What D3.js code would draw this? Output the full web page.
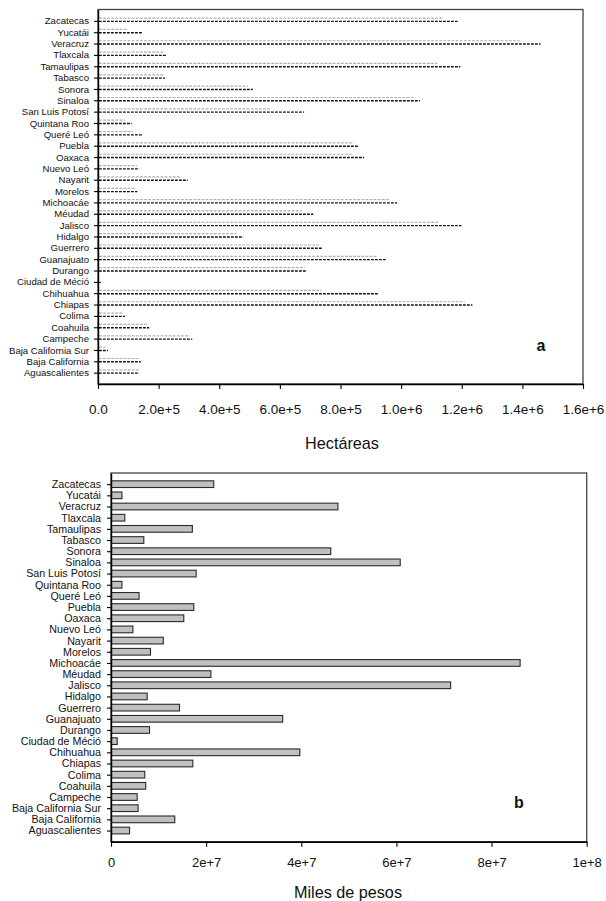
<!DOCTYPE html>
<html>
<head>
<meta charset="utf-8">
<script src="https://cdn.jsdelivr.net/npm/d3@7"></script>
<style>
  html, body { margin: 0; padding: 0; background: #fff; }
  svg { display: block; }
  text { font-family: "Liberation Sans", Arial, sans-serif; fill: #111; }
</style>
</head>
<body>
<svg id="chart" width="606" height="901"></svg>
<script>
// ---------- DATA ----------
const categories = [
  "Zacatecas","Yucatái","Veracruz","Tlaxcala","Tamaulipas","Tabasco","Sonora","Sinaloa",
  "San Luis Potosí","Quintana Roo","Queré Leó","Puebla","Oaxaca","Nuevo Leó","Nayarit","Morelos",
  "Michoacáe","Méudad","Jalisco","Hidalgo","Guerrero","Guanajuato","Durango","Ciudad de Méció",
  "Chihuahua","Chiapas","Colima","Coahuila","Campeche","Baja California Sur","Baja California","Aguascalientes"
];

// Panel a (Hectáreas): light gray dashed series
const hectareasGray = [
  1136000, 98000, 1391000, 218000, 1119000, 215000, 495000, 1040000,
  567000, 89000, 116000, 844000, 840000, 128000, 270000, 125000,
  960000, 672000, 1122000, 457000, 732000, 919000, 682000, 5000,
  737000, 1210000, 83000, 162000, 303000, 24000, 138000, 135000
];
// Panel a (Hectáreas): black dashed series
const hectareasBlack = [
  1186000, 146000, 1460000, 224000, 1195000, 221000, 511000, 1062000,
  680000, 111000, 147000, 860000, 878000, 136000, 296000, 130000,
  987000, 710000, 1199000, 479000, 741000, 949000, 686000, 9000,
  924000, 1235000, 89000, 169000, 311000, 33000, 141000, 136000
];
// Panel b (Miles de pesos)
const milesPesos = [
  21.6e6, 2.3e6, 47.7e6, 2.9e6, 17.1e6, 6.9e6, 46.2e6, 60.8e6,
  17.9e6, 2.3e6, 5.9e6, 17.4e6, 15.3e6, 4.6e6, 11.0e6, 8.3e6,
  86.0e6, 21.0e6, 71.4e6, 7.6e6, 14.4e6, 36.1e6, 8.1e6, 1.3e6,
  39.7e6, 17.2e6, 7.1e6, 7.3e6, 5.5e6, 5.7e6, 13.4e6, 3.9e6
];

const ticksA = [0, 2e5, 4e5, 6e5, 8e5, 1e6, 1.2e6, 1.4e6, 1.6e6];
const tickLabelsA = ["0.0","2.0e+5","4.0e+5","6.0e+5","8.0e+5","1.0e+6","1.2e+6","1.4e+6","1.6e+6"];
const ticksB = [0, 2e7, 4e7, 6e7, 8e7, 1e8];
const tickLabelsB = ["0","2e+7","4e+7","6e+7","8e+7","1e+8"];

// ---------- DRAW ----------
const svg = d3.select("#chart");

// ===== Panel a =====
(function(){
  const L = 98, R = 583, T = 9.5, B = 384;
  const x = d3.scaleLinear().domain([0, 1.6e6]).range([L, R]);
  const y = d3.scalePoint().domain(categories).range([T, B]).padding(1);
  const g = svg.append("g");

  g.append("rect").attr("x", L).attr("y", T).attr("width", R - L).attr("height", B - T)
    .attr("fill", "none").attr("stroke", "#444").attr("stroke-width", 1.3);

  // gray dashed lines (slightly above)
  g.selectAll("line.gray").data(categories).join("line")
    .attr("class", "gray")
    .attr("x1", x(0) + 1).attr("x2", (d, i) => x(hectareasGray[i]))
    .attr("y1", d => y(d) - 2.8).attr("y2", d => y(d) - 2.8)
    .attr("stroke", "#b0b0b0").attr("stroke-width", 1.2)
    .attr("stroke-dasharray", "2.8,1.3");

  // black dashed lines
  g.selectAll("line.black").data(categories).join("line")
    .attr("class", "black")
    .attr("x1", x(0) + 1).attr("x2", (d, i) => x(hectareasBlack[i]))
    .attr("y1", d => y(d) + 0.5).attr("y2", d => y(d) + 0.5)
    .attr("stroke", "#111").attr("stroke-width", 1.4)
    .attr("stroke-dasharray", "2.8,1.2");

  const ya = g.append("g").attr("transform", `translate(${L},0)`)
    .call(d3.axisLeft(y).tickSize(4).tickPadding(5).tickSizeOuter(0));
  ya.select(".domain").attr("stroke", "#000").attr("stroke-width", 1.4);
  ya.selectAll(".tick line").attr("stroke", "#000").attr("stroke-width", 1.1);
  ya.selectAll(".tick text").style("font-size", "9.6px").style("font-family", "Liberation Sans, Arial, sans-serif").attr("fill", "#111");

  const xa = g.append("g").attr("transform", `translate(0,${B})`)
    .call(d3.axisBottom(x).tickValues(ticksA).tickFormat((d, i) => tickLabelsA[i]).tickSize(5).tickSizeOuter(0));
  xa.select(".domain").attr("stroke", "#000").attr("stroke-width", 1.6);
  xa.selectAll(".tick line").attr("stroke", "#000").attr("stroke-width", 1.1);
  xa.selectAll(".tick text").attr("y", 30).attr("dy", 0)
    .style("font-size", "13.5px").style("font-family", "Liberation Sans, Arial, sans-serif").attr("fill", "#111");

  g.append("text").attr("x", 342).attr("y", 449).attr("text-anchor", "middle")
    .style("font-size", "16.2px").text("Hectáreas");
  g.append("text").attr("x", 541).attr("y", 351).attr("text-anchor", "middle")
    .style("font-size", "16px").style("font-weight", "bold").text("a");
})();

// ===== Panel b =====
(function(){
  const L = 111, R = 586.7, T = 473, B = 841.7;
  const x = d3.scaleLinear().domain([0, 1e8]).range([L, R]);
  const y = d3.scalePoint().domain(categories).range([T, B]).padding(1);
  const g = svg.append("g");

  g.append("rect").attr("x", L).attr("y", T).attr("width", R - L).attr("height", B - T)
    .attr("fill", "none").attr("stroke", "#444").attr("stroke-width", 1.3);

  const bh = 6.7;
  g.selectAll("rect.bar").data(categories).join("rect")
    .attr("class", "bar")
    .attr("x", x(0) + 0.5)
    .attr("y", d => y(d) - bh / 2)
    .attr("width", (d, i) => Math.max(0, x(milesPesos[i]) - x(0) - 0.5))
    .attr("height", bh)
    .attr("fill", "#c0c0c0").attr("stroke", "#2a2a2a").attr("stroke-width", 1.1);

  const ya = g.append("g").attr("transform", `translate(${L},0)`)
    .call(d3.axisLeft(y).tickSize(4).tickPadding(6).tickSizeOuter(0));
  ya.select(".domain").attr("stroke", "#000").attr("stroke-width", 1.4);
  ya.selectAll(".tick line").attr("stroke", "#000").attr("stroke-width", 1.1);
  ya.selectAll(".tick text").style("font-size", "10.7px").style("font-family", "Liberation Sans, Arial, sans-serif").attr("fill", "#111");

  const xa = g.append("g").attr("transform", `translate(0,${B})`)
    .call(d3.axisBottom(x).tickValues(ticksB).tickFormat((d, i) => tickLabelsB[i]).tickSize(5).tickSizeOuter(0));
  xa.select(".domain").attr("stroke", "#000").attr("stroke-width", 1.6);
  xa.selectAll(".tick line").attr("stroke", "#000").attr("stroke-width", 1.1);
  xa.selectAll(".tick text").attr("y", 25.5).attr("dy", 0)
    .style("font-size", "13px").style("font-family", "Liberation Sans, Arial, sans-serif").attr("fill", "#111");

  g.append("text").attr("x", 348).attr("y", 897.5).attr("text-anchor", "middle")
    .style("font-size", "16.2px").text("Miles de pesos");
  g.append("text").attr("x", 519).attr("y", 808).attr("text-anchor", "middle")
    .style("font-size", "16px").style("font-weight", "bold").text("b");
})();
</script>
</body>
</html>
